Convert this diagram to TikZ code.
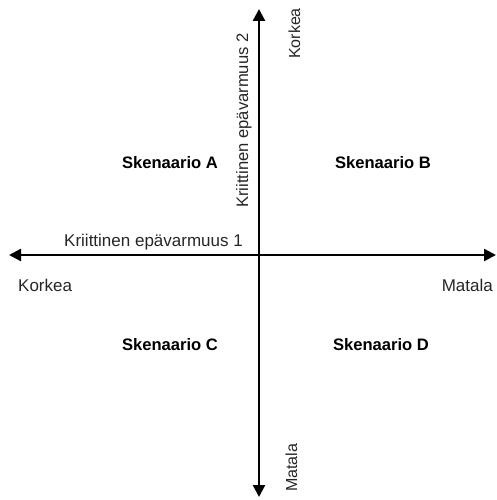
\documentclass[tikz,border=0pt]{standalone}
\usepackage{fontspec}
\setmainfont{Liberation Sans}
\usetikzlibrary{arrows.meta}
\begin{document}
\begin{tikzpicture}[x=1pt,y=-1pt,
  axis/.style={line width=2.4pt,-{Triangle[length=12pt,width=12pt]}},
  lbl/.style={font=\fontsize{17}{20}\selectfont,inner sep=0pt,text=black!85},
  vlbl/.style={lbl,rotate=90,anchor=base west,font=\fontsize{16}{19}\selectfont},
  scen/.style={font=\fontsize{16.6}{20}\selectfont\bfseries,inner sep=0pt}]
\useasboundingbox (0,0) rectangle (497,500);
% axes
\coordinate (c) at (259,255);
\coordinate (l) at (9,255);
\coordinate (r) at (496,255);
\coordinate (t) at (259,9);
\coordinate (b) at (259,497);
\draw[axis] (c) -- (l);
\draw[axis] (c) -- (r);
\draw[axis] (c) -- (t);
\draw[axis] (c) -- (b);
% axis titles
\node[lbl,anchor=base east] (u1) at (243,246) {Kriittinen epävarmuus 1};
\node[lbl,rotate=90,anchor=base west,font=\fontsize{16.6}{20}\selectfont] (u2) at (248,208) {Kriittinen epävarmuus 2};
% extreme labels
\node[lbl,anchor=base west] (hk) at (18,291) {Korkea};
\node[lbl,anchor=base east] (hm) at (493,291) {Matala};
\node[vlbl] (vk) at (300,59) {Korkea};
\node[vlbl] (vm) at (297,492) {Matala};
% scenarios
\node[scen] (sa) at (170,163) {Skenaario A};
\node[scen] (sb) at (383,163) {Skenaario B};
\node[scen] (sc) at (170,345) {Skenaario C};
\node[scen] (sd) at (381,345) {Skenaario D};
\end{tikzpicture}
\end{document}
